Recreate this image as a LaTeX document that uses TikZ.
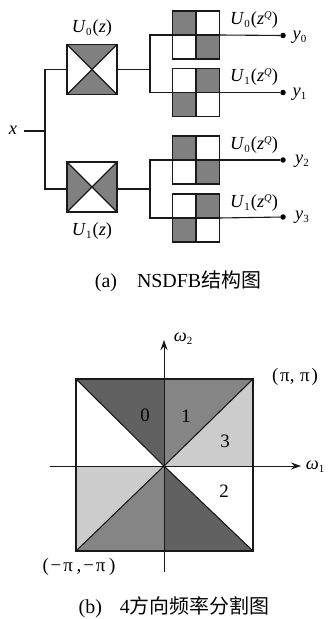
\documentclass[tikz,border=0pt]{standalone}
\usepackage{fontspec}
\setmainfont{Liberation Serif}
\newfontfamily\cjk{Noto Sans CJK SC}
\usetikzlibrary{arrows.meta,backgrounds}
\newcommand{\subf}[1]{\raisebox{-3pt}{\fontsize{11}{11}\selectfont #1}}
\newcommand{\supf}[1]{\raisebox{6.5pt}{\fontsize{10.5}{11}\selectfont\textit{#1}}}
\newcommand{\Ubig}[1]{\textit{U}\subf{#1}\hspace{1pt}(\textit{z})}
\newcommand{\UQ}[1]{\textit{U}\subf{#1}\hspace{1pt}(\textit{z}\supf{Q})}
\newcommand{\yo}[1]{\textit{y}\subf{#1}}
\definecolor{cellgray}{gray}{0.5}
\definecolor{sdark}{gray}{0.38}
\definecolor{smid}{gray}{0.52}
\definecolor{slight}{gray}{0.8}
\tikzset{
  x=1bp,y=-1bp,
  wire/.style={line width=1.1bp,black!90},
  heavy/.style={line width=1.4bp,black!90},
  filterbox/.style={draw,heavy,minimum width=50bp,minimum height=50bp,inner sep=0pt,outer sep=0pt},
  gridbox/.style={draw,wire,minimum width=47bp,minimum height=48bp,inner sep=0pt,outer sep=0pt},
  lab/.style={font=\fontsize{18.5}{20}\selectfont,inner sep=0pt},
  plainlab/.style={font=\fontsize{19}{21}\selectfont,inner sep=0pt},
  caption/.style={font=\fontsize{20}{22}\selectfont,inner sep=0pt},
  tap/.style={circle,fill=black,minimum size=5.5bp,inner sep=0pt},
  axis/.style={line width=1bp,black!90,-{Stealth[length=10bp,width=7bp]}},
  sq/.style={draw,line width=1.1bp,black!90,minimum width=177bp,minimum height=172bp,inner sep=0pt,outer sep=0pt},
}
\begin{document}
\begin{tikzpicture}
\useasboundingbox (0,0) rectangle (329,619);

% --- part (a)
\node[filterbox] (u0) at (92,69.5) {};
\node[filterbox] (u1) at (92,187) {};
\node[gridbox] (g0) at (196,35) {};
\node[gridbox] (g1) at (196,92.5) {};
\node[gridbox] (g2) at (196,160) {};
\node[gridbox] (g3) at (196,218) {};

\begin{scope}[on background layer]
  \fill[white] (0,0) rectangle (329,619);
  \fill[cellgray] (u0.north west) -- (u0.north east) -- (u0.south west) -- (u0.south east) -- cycle;
  \fill[cellgray] (u1.north west) -- (u1.south west) -- (u1.north east) -- (u1.south east) -- cycle;
  \foreach \g in {g0,g2}{
    \fill[cellgray] (\g.north west) rectangle (\g.center);
    \fill[cellgray] (\g.center) rectangle (\g.south east);
  }
  \foreach \g in {g1,g3}{
    \fill[cellgray] (\g.north east) rectangle (\g.center);
    \fill[cellgray] (\g.center) rectangle (\g.south west);
  }
\end{scope}
\draw[wire] (u0.north west) -- (u0.south east) (u0.north east) -- (u0.south west);
\draw[wire] (u1.north west) -- (u1.south east) (u1.north east) -- (u1.south west);
\foreach \g in {g0,g1,g2,g3}{
  \draw[wire] (\g.north) -- (\g.south) (\g.west) -- (\g.east);
}

\node[lab] (xl) at (13,130) {\textit{x}};
\coordinate (xin) at (24,131);
\coordinate (xj) at (45,131);
\coordinate (j0) at (150,69.5);
\coordinate (j1) at (150,189);
\draw[wire] (xin) -- (xj);
\draw[wire] (u0.west) -| (xj) |- (u1.west |- j1);
\draw[wire] (u0.east) -- (j0);
\draw[wire] (u1.east |- j1) -- (j1);
\draw[wire] (g0.west) -| (j0) |- (g1.west);
\draw[wire] (g2.west) -| (j1) |- (g3.west);

\node[tap] (d0) at (283,35.5) {};
\node[tap] (d1) at (283,92.5) {};
\node[tap] (d2) at (283,160) {};
\node[tap] (d3) at (283,217) {};
\draw[wire] (g0.east) -- (d0);
\draw[wire] (g1.east) -- (d1);
\draw[wire] (g2.east) -- (d2);
\draw[wire] (g3.east) -- (d3);

\node[lab] (lu0) at (92,28) {\Ubig{0}};
\node[lab] (lu1) at (92,231) {\Ubig{1}};
\node[lab] (lq0) at (254,20) {\UQ{0}};
\node[lab] (lq1) at (254,77) {\UQ{1}};
\node[lab] (lq2) at (254,145) {\UQ{0}};
\node[lab] (lq3) at (254,203) {\UQ{1}};
\node[lab] (y0) at (299.5,37) {\yo{0}};
\node[lab] (y1) at (299.5,94) {\yo{1}};
\node[lab] (y2) at (302,161) {\yo{2}};
\node[lab] (y3) at (302,217) {\yo{3}};
\node[caption] (capa) at (178,281) {(a)\hspace{1em}NSDFB{\cjk 结构图}};

% --- part (b)
\node[sq] (s) at (164.5,465) {};
\coordinate (o) at (164,466);
\begin{scope}[on background layer]
  \fill[sdark] (o) -- (s.north west) -- (o |- s.north) -- cycle;
  \fill[smid] (o) -- (o |- s.north) -- (s.north east) -- cycle;
  \fill[slight] (o) -- (s.north east) -- (s.east |- o) -- cycle;
  \fill[sdark] (o) -- (s.south east) -- (o |- s.south) -- cycle;
  \fill[smid] (o) -- (o |- s.south) -- (s.south west) -- cycle;
  \fill[slight] (o) -- (s.south west) -- (s.west |- o) -- cycle;
\end{scope}
\draw[wire] (s.north west) -- (o) -- (s.south east);
\draw[wire] (s.north east) -- (o) -- (s.south west);
\coordinate (xa) at (50,466);
\coordinate (xb) at (301,466);
\coordinate (ya) at (164,572);
\coordinate (yb) at (164,340);
\draw[axis] (xa) -- (xb);
\draw[axis] (ya) -- (yb);

\node[plainlab] (n0) at (145,415) {0};
\node[plainlab] (n1) at (186,416) {1};
\node[plainlab] (n3) at (225,441) {3};
\node[plainlab] (n2) at (224,491) {2};
\node[lab] (w1) at (315,467) {\textit{ω}\subf{1}};
\node[lab] (w2) at (183,339) {\textit{ω}\subf{2}};
\node[plainlab] (pp) at (295,377) {(\hspace{0.1em}π,\hspace{0.3em}π\hspace{0.1em})};
\node[plainlab] (mm) at (79,567) {(\hspace{0.1em}−\hspace{0.1em}π\hspace{0.2em},\hspace{0.1em}−\hspace{0.1em}π\hspace{0.2em})};
\node[caption] (capb) at (174,607) {(b)\hspace{0.9em}4{\cjk 方向频率分割图}};
\end{tikzpicture}
\end{document}
